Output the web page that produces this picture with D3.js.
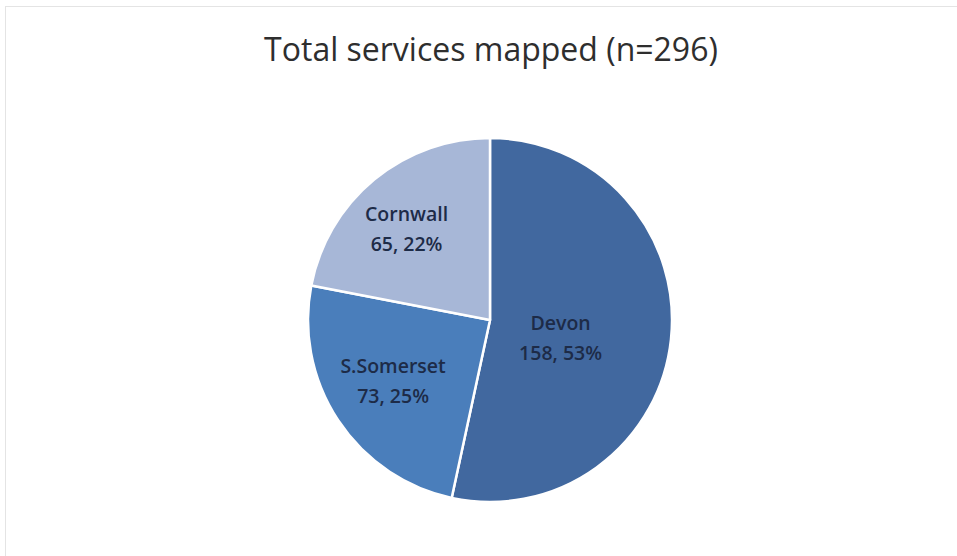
<!DOCTYPE html>
<html>
<head>
<meta charset="utf-8">
<script src="https://cdn.jsdelivr.net/npm/d3@7"></script>
<style>
  html, body { margin: 0; padding: 0; background: #ffffff; }
  svg { display: block; }
</style>
</head>
<body>
<svg id="chart" width="957" height="556"></svg>
<script>
// Services mapped per area
const categories = ["Devon", "S.Somerset", "Cornwall"];
const counts = [158, 73, 65];
const percentLabels = ["53%", "25%", "22%"];
const total = 296;
const titleText = "Total services mapped (n=" + total + ")";

const colors = ["#41689f", "#4a7ebb", "#a7b7d7"];

const W = 957, H = 556;
const cx = 490, cy = 320, R = 182;

const svg = d3.select("#chart");

// chart area frame
svg.append("rect")
  .attr("x", 5.5).attr("y", 6.5)
  .attr("width", W).attr("height", H)
  .attr("fill", "#ffffff")
  .attr("stroke", "#e4e4e4")
  .attr("stroke-width", 1);

svg.append("text")
  .attr("x", 491).attr("y", 61)
  .attr("text-anchor", "middle")
  .attr("font-family", "'Open Sans', sans-serif")
  .attr("font-size", 32)
  .attr("fill", "#2e2e2e")
  .text(titleText);

const data = categories.map((c, i) => ({ name: c, value: counts[i], pct: percentLabels[i], color: colors[i] }));

const pie = d3.pie().value(d => d.value).sort(null);
const arcs = pie(data);

const arc = d3.arc().innerRadius(0).outerRadius(R);

const g = svg.append("g").attr("transform", `translate(${cx},${cy})`);

g.selectAll("path.slice")
  .data(arcs)
  .join("path")
  .attr("class", "slice")
  .attr("d", arc)
  .attr("fill", d => d.data.color)
  .attr("stroke", "#ffffff")
  .attr("stroke-width", 2.5)
  .attr("stroke-linejoin", "round");

// label placement: radius fraction and angular nudge per slice
const labelLayout = {
  "Devon": { r: 0.40, shift: 0.14 },
  "S.Somerset": { r: 0.63, shift: 0.02 },
  "Cornwall": { r: 0.68, shift: -0.05 }
};

const labels = g.selectAll("g.lbl")
  .data(arcs)
  .join("g")
  .attr("class", "lbl")
  .attr("transform", d => {
    const lay = labelLayout[d.data.name];
    const a = (d.startAngle + d.endAngle) / 2 + lay.shift;
    const rr = R * lay.r;
    return `translate(${rr * Math.sin(a)},${-rr * Math.cos(a)})`;
  });

const labelFont = {
  family: "'Open Sans', sans-serif",
  size: 19.5,
  weight: 600,
  color: "#1d2b47"
};

labels.append("text")
  .attr("text-anchor", "middle")
  .attr("y", -8)
  .attr("font-family", labelFont.family)
  .attr("font-size", labelFont.size)
  .attr("font-weight", labelFont.weight)
  .attr("fill", labelFont.color)
  .text(d => d.data.name);

labels.append("text")
  .attr("text-anchor", "middle")
  .attr("y", 22)
  .attr("font-family", labelFont.family)
  .attr("font-size", labelFont.size)
  .attr("font-weight", labelFont.weight)
  .attr("fill", labelFont.color)
  .text(d => d.data.value + ", " + d.data.pct);
</script>
</body>
</html>
